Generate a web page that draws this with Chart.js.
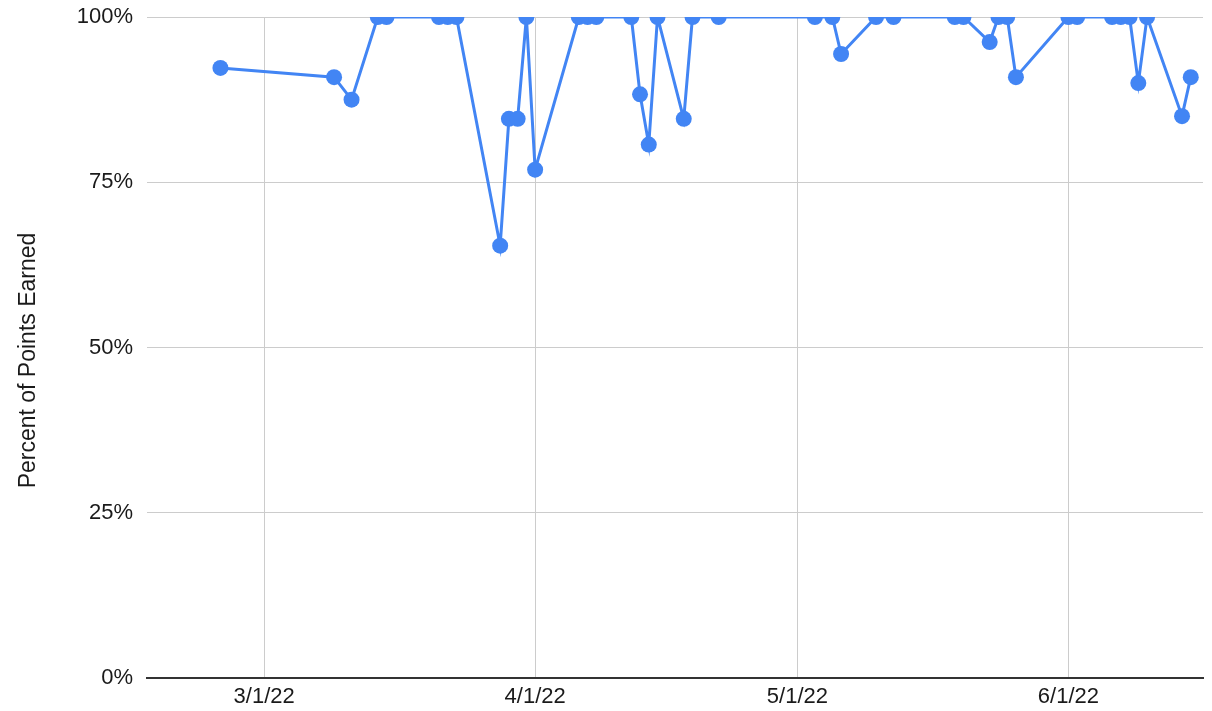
<!DOCTYPE html>
<html>
<head>
<meta charset="utf-8">
<script src="https://cdn.jsdelivr.net/npm/chart.js@4.4.1/dist/chart.umd.min.js"></script>
<style>
  html, body { margin: 0; padding: 0; background: #fff; }
  #wrap { width: 1212px; height: 711px; position: relative; }
</style>
</head>
<body>
<div id="wrap"><canvas id="scoreChart"></canvas></div>
<script>
// Quiz dates (M/D/YY) and percent of points earned on each
const quizDates = [
  '2/24/22', '3/9/22', '3/11/22', '3/14/22', '3/15/22', '3/21/22', '3/22/22', '3/23/22',
  '3/28/22', '3/29/22', '3/30/22', '3/31/22', '4/1/22', '4/6/22', '4/7/22', '4/8/22',
  '4/12/22', '4/13/22', '4/14/22', '4/15/22', '4/18/22', '4/19/22', '4/22/22', '5/3/22',
  '5/5/22', '5/6/22', '5/10/22', '5/12/22', '5/19/22', '5/20/22', '5/23/22', '5/24/22',
  '5/25/22', '5/26/22', '6/1/22', '6/2/22', '6/6/22', '6/7/22', '6/8/22', '6/9/22',
  '6/10/22', '6/14/22', '6/15/22'
];
const percentEarned = [
  92.3, 90.9, 87.5, 100, 100, 100, 100, 100,
  65.4, 84.6, 84.6, 100, 76.9, 100, 100, 100,
  100, 88.3, 80.7, 100, 84.6, 100, 100, 100,
  100, 94.4, 100, 100, 100, 100, 96.2, 100,
  100, 90.9, 100, 100, 100, 100, 100, 90.0,
  100, 85.0, 90.9
];
// x-axis tick dates and axis range
const xTickDates = ['3/1/22', '4/1/22', '5/1/22', '6/1/22'];
const xRange = ['2/15/22', '6/17/22'];
const yTicks = [0, 25, 50, 75, 100];
const yTitle = 'Percent of Points Earned';

// days are counted from 3/1/22 so the x axis can stay linear
const DAY = 86400000;
const origin = Date.UTC(2022, 2, 1);
function toDay(s) {
  const [m, d, y] = s.split('/').map(Number);
  return Math.round((Date.UTC(2000 + y, m - 1, d) - origin) / DAY);
}
function fromDay(n) {
  const dt = new Date(origin + n * DAY);
  return (dt.getUTCMonth() + 1) + '/' + dt.getUTCDate() + '/' + String(dt.getUTCFullYear()).slice(2);
}

const points = quizDates.map((d, i) => ({ x: toDay(d), y: percentEarned[i] }));
const fontFamily = 'Arial, "Liberation Sans", sans-serif';
const tickFont = { family: fontFamily, size: 22 };

// vertical axis title, centred on the whole canvas height
const yTitlePlugin = {
  id: 'yTitle',
  afterDraw(chart) {
    const ctx = chart.ctx;
    ctx.save();
    ctx.translate(29, chart.height / 2 + 5);
    ctx.rotate(-Math.PI / 2);
    ctx.font = '23px ' + fontFamily;
    ctx.fillStyle = '#1a1a1a';
    ctx.textAlign = 'center';
    ctx.textBaseline = 'middle';
    ctx.fillText(yTitle, 0, 0);
    ctx.restore();
  }
};

new Chart(document.getElementById('scoreChart'), {
  type: 'line',
  data: {
    datasets: [{
      data: points,
      borderColor: '#4285f4',
      backgroundColor: '#4285f4',
      borderWidth: 3,
      pointRadius: 8,
      pointBorderWidth: 0,
      pointHoverRadius: 8,
      tension: 0
    }]
  },
  options: {
    responsive: true,
    maintainAspectRatio: false,
    animation: false,
    layout: { padding: { left: 0, right: 9, top: 17, bottom: 0 } },
    plugins: { legend: { display: false }, tooltip: { enabled: false } },
    scales: {
      x: {
        type: 'linear',
        min: toDay(xRange[0]) + 0.6,
        max: toDay(xRange[1]) - 0.6,
        afterBuildTicks: scale => { scale.ticks = xTickDates.map(d => ({ value: toDay(d) })); },
        afterFit: scale => { scale.height = 33; scale.paddingLeft = 0; scale.paddingRight = 0; },
        ticks: {
          color: '#1a1a1a',
          font: tickFont,
          padding: 6,
          maxRotation: 0,
          callback: v => fromDay(v)
        },
        grid: { color: '#cccccc', lineWidth: 1, drawTicks: false },
        border: { display: true, color: '#333333', width: 2 }
      },
      y: {
        min: 0,
        max: 100,
        afterBuildTicks: scale => { scale.ticks = yTicks.map(v => ({ value: v })); },
        afterFit: scale => { scale.width = 147; scale.paddingTop = 0; scale.paddingBottom = 0; },
        ticks: {
          color: '#1a1a1a',
          font: tickFont,
          padding: 14,
          callback: v => v + '%'
        },
        grid: {
          color: c => (c.tick && c.tick.value === 0 ? 'rgba(0,0,0,0)' : '#cccccc'),
          lineWidth: 1,
          drawTicks: false
        },
        border: { display: false }
      }
    }
  },
  plugins: [yTitlePlugin]
});
</script>
</body>
</html>
